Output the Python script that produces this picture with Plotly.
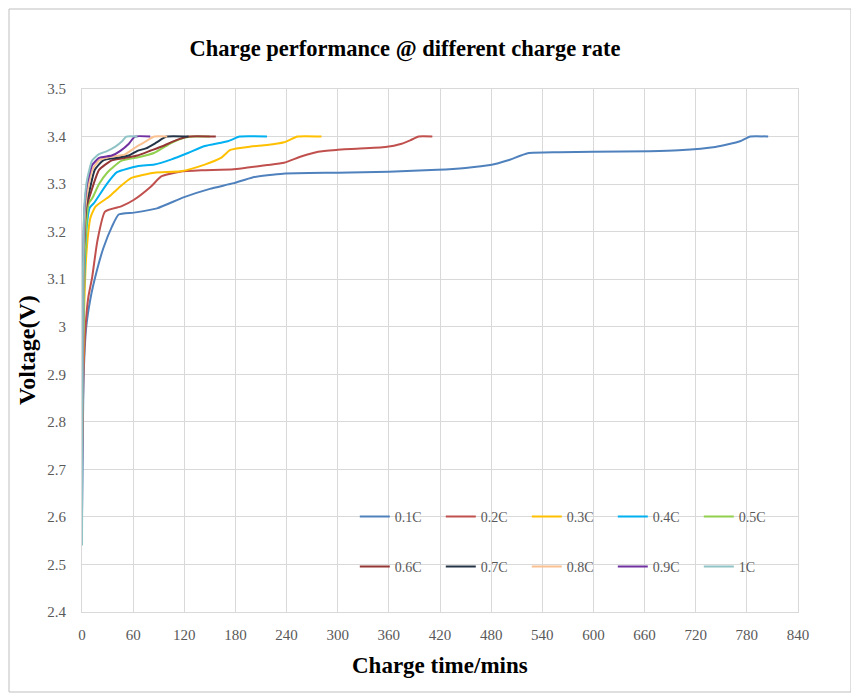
import plotly.graph_objects as go

series_names = ["0.1C", "0.2C", "0.3C", "0.4C", "0.5C", "0.6C", "0.7C", "0.8C", "0.9C", "1C"]
series_colors = ["#4F81BD", "#C0504D", "#FFC000", "#00B0F0", "#92D050",
                 "#953735", "#243447", "#FAC090", "#7030A0", "#8FC3C6"]

t_01 = [0, 2, 5, 10, 17, 25, 35, 43, 61, 88, 119, 150, 178, 200, 236, 300, 360, 417, 450, 479, 500, 523, 560, 600, 666, 700, 743, 772, 784, 805]
v_01 = [2.60, 2.90, 3.00, 3.06, 3.115, 3.165, 3.21, 3.236, 3.24, 3.249, 3.272, 3.29, 3.302, 3.314, 3.322, 3.324, 3.326, 3.33, 3.334, 3.34, 3.35, 3.365, 3.367, 3.368, 3.369, 3.371, 3.378, 3.39, 3.40, 3.40]

t_02 = [0, 2, 5, 7.5, 12, 18, 27, 46, 61, 81, 93, 115, 140, 178, 217, 237, 257, 277, 300, 316, 356, 375, 385, 395, 411]
v_02 = [2.70, 2.92, 3.02, 3.063, 3.105, 3.18, 3.242, 3.253, 3.267, 3.295, 3.316, 3.326, 3.329, 3.331, 3.34, 3.345, 3.358, 3.368, 3.372, 3.374, 3.378, 3.385, 3.392, 3.40, 3.40]

t_03 = [0, 2, 5, 10, 16, 32, 43, 58, 85, 116, 144, 163, 174, 198, 217, 237, 253, 281]
v_03 = [2.75, 3.0, 3.15, 3.23, 3.253, 3.274, 3.292, 3.313, 3.324, 3.327, 3.341, 3.355, 3.372, 3.379, 3.382, 3.388, 3.40, 3.40]

t_04 = [0, 2, 5, 9, 14, 29, 41, 66, 85, 105, 125, 144, 171, 185, 217]
v_04 = [2.80, 3.05, 3.20, 3.25, 3.26, 3.30, 3.325, 3.338, 3.341, 3.352, 3.366, 3.38, 3.39, 3.40, 3.40]

t_05 = [0, 3, 8, 12, 20, 30, 46, 65, 85, 105, 121, 130, 150]
v_05 = [2.80, 3.15, 3.26, 3.27, 3.30, 3.325, 3.349, 3.356, 3.366, 3.387, 3.398, 3.40, 3.40]

t_06 = [0, 2, 5, 10, 20, 35, 50, 65, 80, 95, 110, 125, 157]
v_06 = [2.85, 3.15, 3.25, 3.28, 3.33, 3.35, 3.355, 3.36, 3.37, 3.38, 3.392, 3.40, 3.40]

t_07 = [0, 2, 5, 8, 15, 25, 40, 55, 65, 75, 87, 99, 125]
v_07 = [2.85, 3.15, 3.26, 3.28, 3.33, 3.35, 3.355, 3.36, 3.37, 3.375, 3.387, 3.40, 3.40]

t_08 = [0, 2, 4, 7, 12, 20, 35, 50, 65, 75, 85, 100]
v_08 = [2.80, 3.15, 3.25, 3.29, 3.33, 3.35, 3.358, 3.362, 3.38, 3.39, 3.40, 3.40]

t_09 = [0, 1, 3, 6, 12, 20, 35, 45, 55, 62, 80]
v_09 = [2.60, 3.10, 3.25, 3.30, 3.34, 3.355, 3.36, 3.37, 3.385, 3.40, 3.40]

t_10 = [0, 1, 3, 6, 12, 20, 30, 40, 47, 52, 65]
v_10 = [2.54, 3.10, 3.26, 3.31, 3.35, 3.363, 3.37, 3.38, 3.39, 3.40, 3.40]

x_ticks = [0, 60, 120, 180, 240, 300, 360, 420, 480, 540, 600, 660, 720, 780, 840]
y_ticks = [2.4, 2.5, 2.6, 2.7, 2.8, 2.9, 3.0, 3.1, 3.2, 3.3, 3.4, 3.5]
y_tick_text = ["2.4", "2.5", "2.6", "2.7", "2.8", "2.9", "3", "3.1", "3.2", "3.3", "3.4", "3.5"]

all_t = [t_01, t_02, t_03, t_04, t_05, t_06, t_07, t_08, t_09, t_10]
all_v = [v_01, v_02, v_03, v_04, v_05, v_06, v_07, v_08, v_09, v_10]

SERIF = "Liberation Serif, Times New Roman, serif"
TXT = "#595959"
GRID = "#D9D9D9"

# the page has an 8px body margin, so the figure is sized to fit inside it
W, H = 851, 687
PL, PR, PT, PB = 74, 790, 81, 604   # plot area in figure pixels
PW, PH = PR - PL, PB - PT

fig = go.Figure()
for i, (name, col, t, v) in enumerate(zip(series_names, series_colors, all_t, all_v)):
    fig.add_trace(go.Scatter(
        x=t, y=v, name=name, mode="lines",
        line=dict(color=col, width=2, shape="spline", smoothing=0.5),
        legend="legend" if i < 5 else "legend2",
    ))

legend_common = dict(
    orientation="h", bgcolor="rgba(0,0,0,0)",
    font=dict(family=SERIF, size=14, color=TXT),
    entrywidth=41, entrywidthmode="pixels", itemwidth=30,
    xanchor="left", yanchor="middle", tracegroupgap=0,
)

fig.update_layout(
    width=W, height=H,
    margin=dict(l=PL, r=W - PR, t=PT, b=H - PB),
    paper_bgcolor="white", plot_bgcolor="white",
    showlegend=True,
    legend=dict(x=0.381, y=0.182, **legend_common),
    legend2=dict(x=0.381, y=0.086, **legend_common),
    title=dict(text="<b>Charge performance @ different charge rate</b>",
               x=397 / W, xref="container", xanchor="center",
               y=1 - 40 / H, yref="container", yanchor="middle",
               font=dict(family=SERIF, size=22.5, color="#000000")),
    xaxis=dict(range=[0, 840], tickvals=x_ticks, ticktext=[str(x) for x in x_ticks],
               showgrid=True, gridcolor=GRID, gridwidth=1, zeroline=False,
               showline=True, linecolor=GRID, linewidth=1, mirror=True, ticks="",
               tickfont=dict(family=SERIF, size=15, color=TXT), ticklabelstandoff=9),
    yaxis=dict(range=[2.4, 3.5], tickvals=y_ticks, ticktext=y_tick_text,
               showgrid=True, gridcolor=GRID, gridwidth=1, zeroline=False,
               showline=True, linecolor=GRID, linewidth=1, mirror=True, ticks="",
               tickfont=dict(family=SERIF, size=15, color=TXT), ticklabelstandoff=12),
    annotations=[
        dict(text="<b>Charge time/mins</b>", xref="paper", yref="paper",
             x=0.5, y=(PB - 657) / PH, xanchor="center", yanchor="middle",
             showarrow=False, font=dict(family=SERIF, size=23, color="#000000")),
        dict(text="<b>Voltage(V)</b>", xref="paper", yref="paper",
             x=(19 - PL) / PW, y=(PB - 342) / PH, xanchor="center", yanchor="middle",
             textangle=-90, showarrow=False, font=dict(family=SERIF, size=24, color="#000000")),
    ],
    shapes=[dict(type="rect", xref="paper", yref="paper",
                 x0=(1 - PL) / PW, x1=(843 - PL) / PW,
                 y0=(PB - 684) / PH, y1=(PB - 1) / PH,
                 line=dict(color="#BFBFBF", width=1), fillcolor="rgba(0,0,0,0)", layer="below")],
)

fig.write_html("out.html")
